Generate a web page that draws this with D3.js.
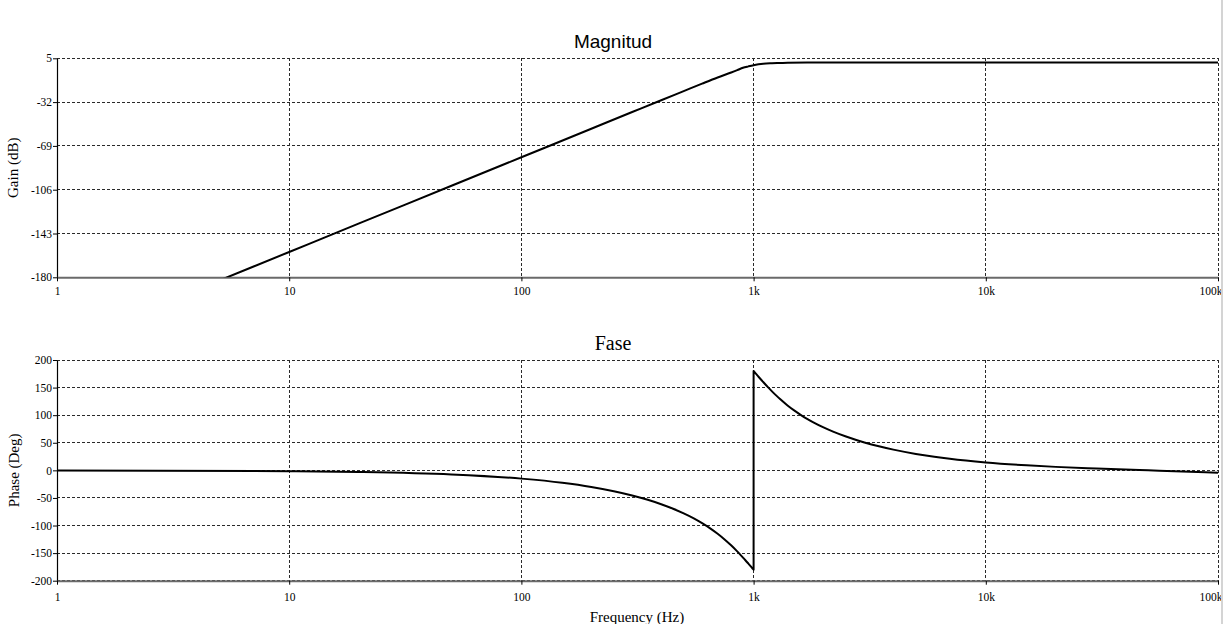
<!DOCTYPE html>
<html>
<head>
<meta charset="utf-8">
<script src="https://cdn.jsdelivr.net/npm/d3@7/dist/d3.min.js"></script>
<style>
  html, body { margin: 0; padding: 0; background: #fff; }
  svg { display: block; }
  .tick text { font-family: "Liberation Serif", "Times New Roman", serif; font-size: 11.5px; fill: #000; }
  .tick line { stroke: #000; }
</style>
</head>
<body>
<svg id="chart" width="1223" height="624"></svg>
<script>
// Bode plot of a 4th-order high-pass response (corner at 1 kHz)

// Magnitude response
const magFreq = [5, 10, 20, 50, 100, 200, 300, 400, 500, 600, 700, 800, 850, 900, 950, 1000, 1050, 1100, 1200, 1300, 1400, 1700, 2000, 5000, 10000, 100000];
const magDb   = [-182.7, -158.6, -134.5, -102.7, -78.6, -54.5, -40.4, -30.4, -22.7, -16.4, -11.2, -7.0, -5.0, -3.0, -1.8, -0.8, -0.1, 0.4, 0.8, 1.0, 1.2, 1.35, 1.4, 1.4, 1.4, 1.4];

// Phase response (wraps from -180 to +180 at 1 kHz)
const phaseFreq = [1, 10, 20, 50, 100, 150, 200, 250, 300, 350, 400, 450, 500, 550, 600, 650, 700, 750, 800, 850, 900, 920, 950, 960, 980, 990, 1000,
                   1000, 1010, 1020, 1050, 1100, 1150, 1200, 1250, 1300, 1400, 1500, 1600, 1700, 1800, 2000, 2200, 2500, 3000, 3500, 4000, 5000, 6000, 7000,
                   10000, 15000, 20000, 30000, 50000, 70000, 100000];
const phaseDeg  = [-0.15, -1.5, -3.0, -7.5, -15.0, -22.5, -30.1, -37.8, -45.5, -53.4, -61.4, -69.6, -78.0, -86.6, -95.7, -105.1, -114.9, -125.2, -135.9, -146.9, -158.1, -162.5, -169.2, -171.4, -175.7, -177.9, -180,
                   180, 177.8, 175.8, 169.7, 160.1, 151.2, 143.2, 135.9, 129.2, 117.7, 108.2, 100.2, 93.4, 87.6, 77.9, 70.2, 61.3, 50.5, 43.1, 37.6, 29.8, 24.7, 21.0,
                   14.4, 9.1, 6.3, 3.3, 0.1, -1.9, -4.2];

// Axis ticks
const freqTicks  = [1, 10, 100, 1000, 10000, 100000];
const freqLabels = ["1", "10", "100", "1k", "10k", "100k"];
const magTicks   = [5, -32, -69, -106, -143, -180];
const phaseTicks = [200, 150, 100, 50, 0, -50, -100, -150, -200];

const svg = d3.select("#chart");
const left = 57, right = 1218;

const x = d3.scaleLog().domain([1, 100000]).range([left, right]);

const panels = [
  { title: "Magnitud", titleFont: '"Liberation Sans", Arial, sans-serif', titleSize: 19, titleY: 47.5,
    ylabel: "Gain (dB)", ylabelX: 18, top: 58.3, bottom: 277.3, domain: [-180, 5],
    ticks: magTicks, xf: magFreq, yv: magDb, labelPad: 6, id: "mag" },
  { title: "Fase", titleFont: '"Liberation Serif", "Times New Roman", serif', titleSize: 20, titleY: 350,
    ylabel: "Phase (Deg)", ylabelX: 19, top: 360, bottom: 580.7, domain: [-200, 200],
    ticks: phaseTicks, xf: phaseFreq, yv: phaseDeg, labelPad: 8, id: "phase" }
];

panels.forEach(p => {
  const y = d3.scaleLinear().domain(p.domain).range([p.bottom, p.top]);
  const g = svg.append("g");

  // Dashed grid
  g.append("g").selectAll("line.h").data(p.ticks).join("line")
    .attr("x1", left).attr("x2", right)
    .attr("y1", d => y(d)).attr("y2", d => y(d))
    .attr("stroke", "#2a2a2a").attr("stroke-width", 1).attr("stroke-dasharray", "3,2")
    .attr("shape-rendering", "crispEdges");
  g.append("g").selectAll("line.v").data(freqTicks.slice(1)).join("line")
    .attr("x1", d => x(d)).attr("x2", d => x(d))
    .attr("y1", p.top).attr("y2", p.bottom)
    .attr("stroke", "#2a2a2a").attr("stroke-width", 1).attr("stroke-dasharray", "3,2")
    .attr("shape-rendering", "crispEdges");

  // Axes (plain hyphen for negative labels)
  const ya = g.append("g").attr("transform", `translate(${left},0)`)
    .call(d3.axisLeft(y).tickValues(p.ticks).tickSize(4).tickSizeOuter(0).tickPadding(1).tickFormat(d => String(d)));
  ya.select(".domain").attr("stroke", "#000").attr("stroke-width", 1.2);

  const xa = g.append("g").attr("transform", `translate(0,${p.bottom})`)
    .call(d3.axisBottom(x).tickValues(freqTicks).tickSize(4).tickSizeOuter(0).tickPadding(p.labelPad)
      .tickFormat((d, i) => freqLabels[i]));
  xa.select(".domain").attr("stroke", "#6a6a6a").attr("stroke-width", 2);
  xa.selectAll(".tick").filter(d => d === 100000).select("text")
    .attr("text-anchor", "end").attr("x", 4);

  // Curve
  g.append("clipPath").attr("id", "clip-" + p.id).append("rect")
    .attr("x", left).attr("y", p.top - 2).attr("width", right - left).attr("height", p.bottom - p.top + 2);
  const line = d3.line().x(d => x(d[0])).y(d => y(d[1])).curve(d3.curveMonotoneX);
  g.append("path")
    .datum(p.xf.map((f, i) => [f, p.yv[i]]))
    .attr("clip-path", `url(#clip-${p.id})`)
    .attr("d", line)
    .attr("fill", "none").attr("stroke", "#000").attr("stroke-width", 2)
    .attr("stroke-linejoin", "round");

  // Titles and labels
  g.append("text").attr("x", 613).attr("y", p.titleY).attr("text-anchor", "middle")
    .attr("font-family", p.titleFont).attr("font-size", p.titleSize).attr("fill", "#000").text(p.title);
  g.append("text")
    .attr("transform", `translate(${p.ylabelX},${(p.top + p.bottom) / 2}) rotate(-90)`)
    .attr("text-anchor", "middle")
    .attr("font-family", '"Liberation Serif", "Times New Roman", serif').attr("font-size", 15)
    .attr("fill", "#000").text(p.ylabel);
});

svg.append("text").attr("x", 637).attr("y", 621.5).attr("text-anchor", "middle")
  .attr("font-family", '"Liberation Serif", "Times New Roman", serif').attr("font-size", 15)
  .attr("fill", "#000").text("Frequency (Hz)");

// Window edge
svg.append("rect").attr("x", 1221).attr("y", 0).attr("width", 2).attr("height", 624).attr("fill", "#d4d4d4");
</script>
</body>
</html>
